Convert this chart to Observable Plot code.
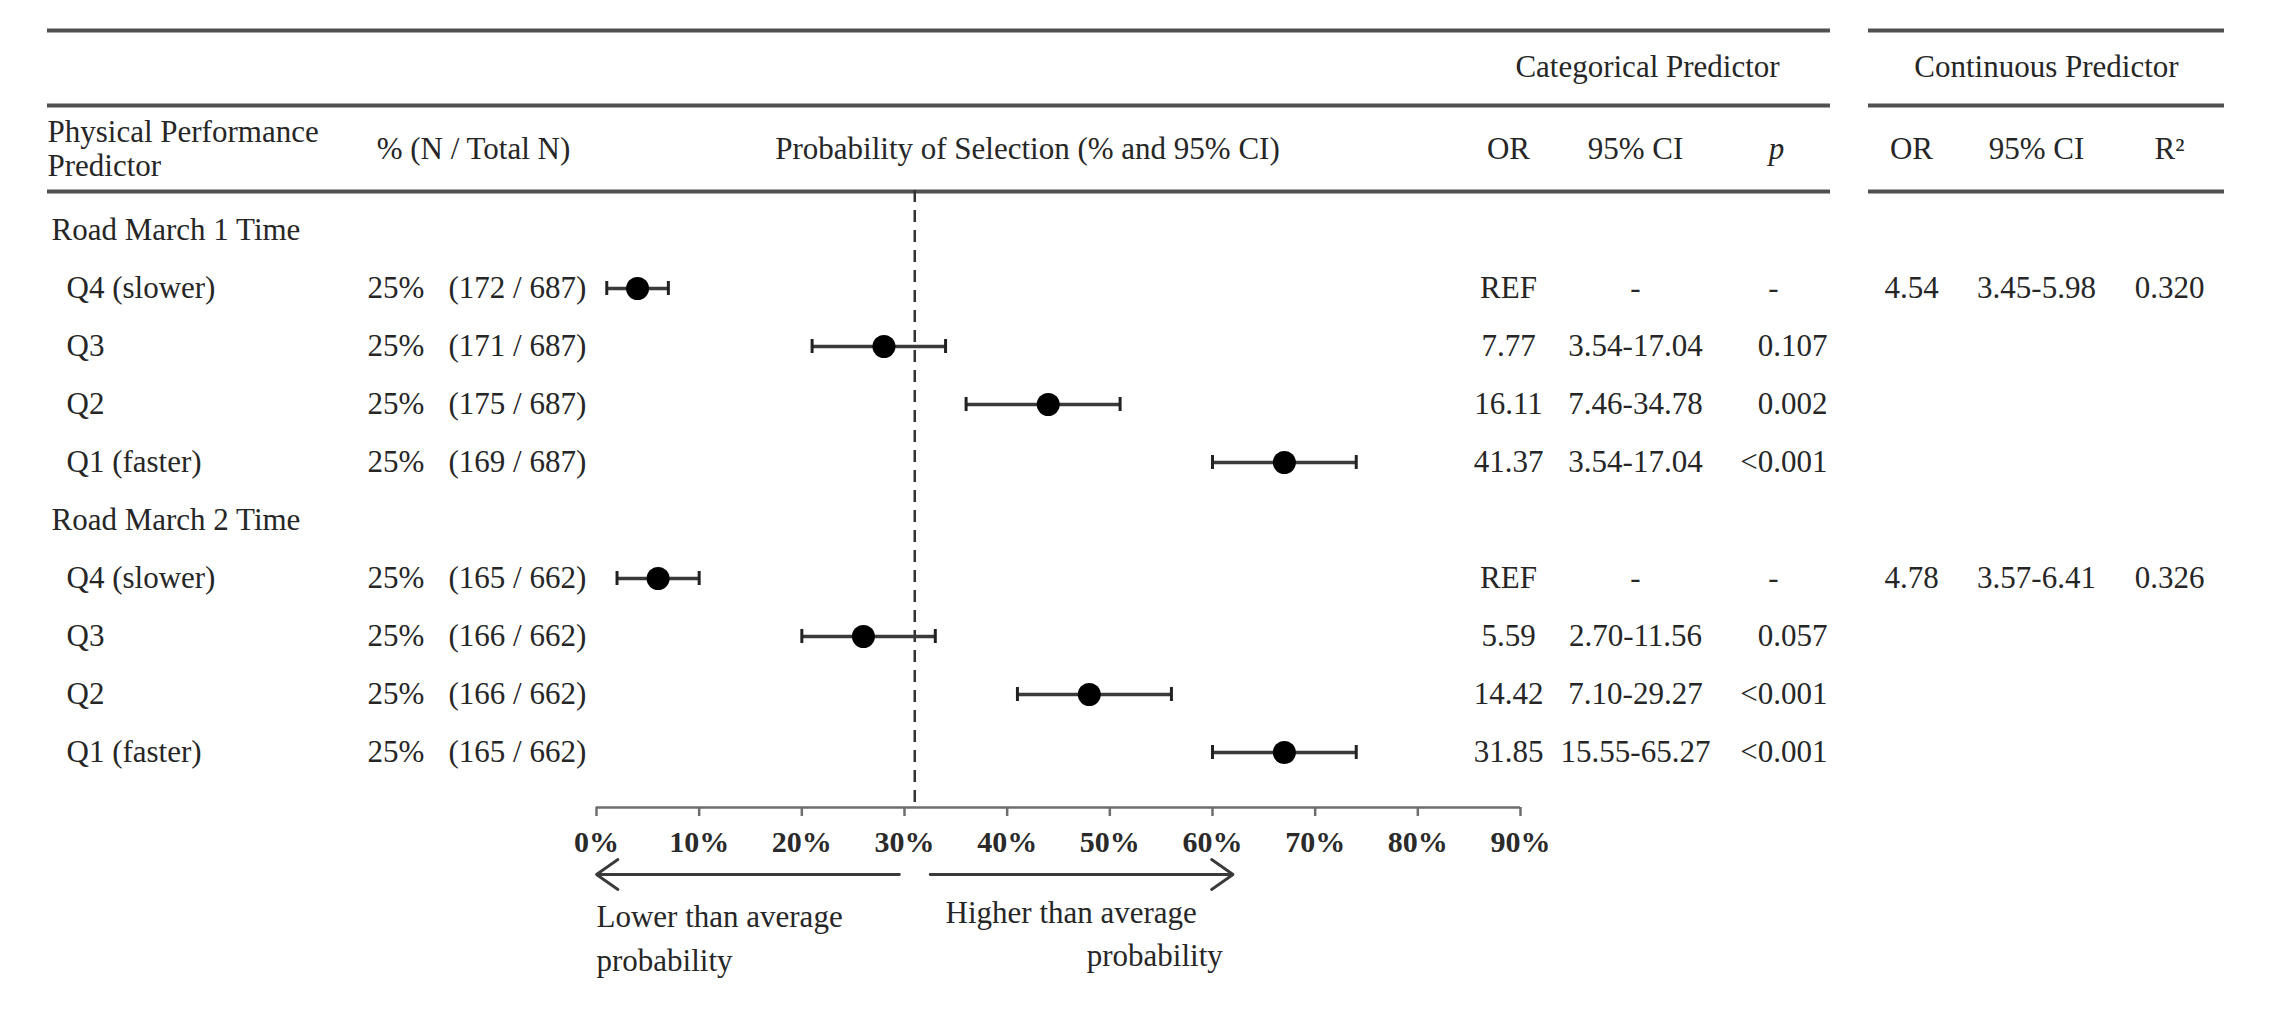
<!DOCTYPE html>
<html>
<head>
<meta charset="utf-8">
<script src="https://cdn.jsdelivr.net/npm/d3@7"></script>
<script src="https://cdn.jsdelivr.net/npm/@observablehq/plot@0.6"></script>
<style>
  html, body { margin: 0; padding: 0; background: #fff; }
  #chart svg { display: block; }
</style>
</head>
<body>
<div id="chart"></div>
<script>
// ---------------- data ----------------
const groups = ["Road March 1 Time", "Road March 2 Time"];
const quartiles = ["Q4 (slower)", "Q3", "Q2", "Q1 (faster)"];
const sharePct = [25, 25, 25, 25, 25, 25, 25, 25];
const countN = [172, 171, 175, 169, 165, 166, 166, 165];
const totalN = [687, 662];
const probEst = [4, 28, 44, 67, 6, 26, 48, 67];
const probLo = [1, 21, 36, 60, 2, 20, 41, 60];
const probHi = [7, 34, 51, 74, 10, 33, 56, 74];
const catOR = ["REF", "7.77", "16.11", "41.37", "REF", "5.59", "14.42", "31.85"];
const catCI = ["-", "3.54-17.04", "7.46-34.78", "3.54-17.04", "-", "2.70-11.56", "7.10-29.27", "15.55-65.27"];
const catP = ["-", "0.107", "0.002", "<0.001", "-", "0.057", "<0.001", "<0.001"];
const contOR = ["4.54", "4.78"];
const contCI = ["3.45-5.98", "3.57-6.41"];
const contR2 = ["0.320", "0.326"];
const averageProb = 31;
const xTicks = [0, 10, 20, 30, 40, 50, 60, 70, 80, 90];
const blockTitles = ["Categorical Predictor", "Continuous Predictor"];
const columnTitles = ["Physical Performance\nPredictor", "% (N / Total N)", "Probability of Selection (% and 95% CI)", "OR", "95% CI", "p", "OR", "95% CI", "R\u00B2"];
const arrowFrom = [29.5, 32.5];
const arrowTo = [0, 62];
const directionText = ["Lower than average\nprobability", "Higher than average", "probability"];
const directionAt = [0, 34, 61];

// ---------------- layout (pixels) ----------------
const W = 2273, H = 1011;
const ML = 47, MR = 49, MT = 190, MB = 204;
const X_RANGE = [596, 1520];
const Y_RANGE = [229, 752];
const FONT = "'Liberation Serif', 'Times New Roman', serif";
const INK = "#262626";
const COL = {group: 51, label: 66, pct: 367, n: 448, or: 1508, ci: 1635, pRight: 1827, pDash: 1773,
             cor: 1911, cci: 2036, r2: 2169};
const titleX = [1647, 2046];
const titleY = 67;
const colTitleX = [47, 473, 1027, 1508, 1635, 1776, 1911, 2036, 2169];
const colTitleY = 148;
const ruleYs = [29, 104, 190];
const leftBlockEnd = 1830, rightBlockStart = 1868;
const axisY = 807, arrowY = 874, dirY1 = 913, dirY2 = 956;

// ---------------- build rows ----------------
const rows = [];
groups.forEach((g, gi) => quartiles.forEach((q, qi) => {
  const i = gi * quartiles.length + qi;
  rows.push({
    key: g + " | " + q, group: gi, first: qi === 0, label: q,
    pct: sharePct[i], n: countN[i], total: totalN[gi],
    est: probEst[i], lo: probLo[i], hi: probHi[i],
    or: catOR[i], ci: catCI[i], p: catP[i],
    cor: qi === 0 ? contOR[gi] : "", cci: qi === 0 ? contCI[gi] : "", r2: qi === 0 ? contR2[gi] : ""
  });
}));
const yDomain = groups.flatMap(g => [g, ...quartiles.map(q => g + " | " + q)]);
const firstKey = yDomain[0];
const lastKey = yDomain[yDomain.length - 1];

const colText = (field, px, anchor, extra = {}) =>
  Plot.text(rows, {y: "key", text: field, frameAnchor: "left", dx: px - ML,
                   textAnchor: anchor, lineAnchor: "middle", fill: INK, ...extra});

const headerRules = ruleYs.flatMap(r => [
  Plot.ruleY([firstKey], {dy: r - Y_RANGE[0], insetRight: (W - MR) - leftBlockEnd, stroke: "#505050", strokeWidth: 4}),
  Plot.ruleY([firstKey], {dy: r - Y_RANGE[0], insetLeft: rightBlockStart - ML, stroke: "#505050", strokeWidth: 4})
]);

const chart = Plot.plot({
  width: W, height: H,
  marginLeft: ML, marginRight: MR, marginTop: MT, marginBottom: MB,
  style: {fontFamily: FONT, fontSize: "31px", color: INK, background: "white"},
  x: {domain: [0, 90], range: X_RANGE, label: null},
  y: {type: "point", domain: yDomain, range: Y_RANGE, padding: 0, axis: null},
  marks: [
    ...headerRules,
    // block titles
    ...blockTitles.map((t, i) => Plot.text([t], {text: d => d, frameAnchor: "top-left",
      dx: titleX[i] - ML, dy: titleY - MT, textAnchor: "middle", lineAnchor: "middle", fill: INK})),
    // column titles
    ...columnTitles.map((t, i) => Plot.text([t], {text: d => d, frameAnchor: "top-left",
      dx: colTitleX[i] - ML, dy: colTitleY - MT, textAnchor: i === 0 ? "start" : "middle",
      lineAnchor: "middle", lineHeight: 1.1, fill: INK, fontStyle: t === "p" ? "italic" : "normal"})),
    // group headings
    Plot.text(groups, {y: d => d, text: d => d, frameAnchor: "left", dx: COL.group - ML,
      textAnchor: "start", lineAnchor: "middle", fill: INK}),
    colText("label", COL.label, "start"),
    colText(d => d.pct + "%", COL.pct, "start"),
    colText(d => `(${d.n} / ${d.total})`, COL.n, "start"),
    colText("or", COL.or, "middle"),
    colText("ci", COL.ci, "middle"),
    colText("p", COL.pRight, "end", {filter: d => d.p !== "-"}),
    colText("p", COL.pDash, "middle", {filter: d => d.p === "-"}),
    colText("cor", COL.cor, "middle", {filter: d => d.first}),
    colText("cci", COL.cci, "middle", {filter: d => d.first}),
    colText("r2", COL.r2, "middle", {filter: d => d.first}),
    // reference line (average probability)
    Plot.ruleX([averageProb], {stroke: "#333", strokeWidth: 2.5, strokeDasharray: "12,8"}),
    // confidence intervals
    Plot.ruleY(rows, {y: "key", x1: "lo", x2: "hi", stroke: "#3a3a3a", strokeWidth: 3.5}),
    Plot.ruleX(rows, {x: "lo", y1: "key", y2: "key", insetTop: -7, insetBottom: -7, stroke: "#222", strokeWidth: 3}),
    Plot.ruleX(rows, {x: "hi", y1: "key", y2: "key", insetTop: -7, insetBottom: -7, stroke: "#222", strokeWidth: 3}),
    Plot.dot(rows, {y: "key", x: "est", r: 11.5, fill: "#000", stroke: "none"}),
    // x axis
    Plot.ruleY([lastKey], {x1: xTicks[0], x2: xTicks[xTicks.length - 1], dy: axisY - Y_RANGE[1],
      stroke: "#6e6e6e", strokeWidth: 2.5}),
    Plot.axisX({ticks: xTicks, anchor: "bottom", tickFormat: d => d + "%", tickSize: 9,
      tickPadding: 14, fontSize: 30, fontWeight: "bold", stroke: "#6e6e6e", strokeWidth: 2.5, fill: "#2a2a2a"}),
    // direction arrows
    Plot.arrow(arrowFrom.map((a, i) => ({x1: a, x2: arrowTo[i]})), {x1: "x1", x2: "x2",
      y1: () => lastKey, y2: () => lastKey, dy: arrowY - Y_RANGE[1],
      stroke: "#3a3a3a", strokeWidth: 2.8, headLength: 14, headAngle: 70}),
    Plot.text([0], {x: directionAt[0], text: () => directionText[0], frameAnchor: "bottom",
      dy: (dirY1 + dirY2) / 2 - axisY, textAnchor: "start", lineAnchor: "middle", lineHeight: 1.4, fill: INK}),
    Plot.text([0], {x: directionAt[1], text: () => directionText[1], frameAnchor: "bottom",
      dy: dirY1 - axisY, textAnchor: "start", lineAnchor: "middle", fill: INK}),
    Plot.text([0], {x: directionAt[2], text: () => directionText[2], frameAnchor: "bottom",
      dy: dirY2 - axisY, textAnchor: "end", lineAnchor: "middle", fill: INK})
  ]
});
document.getElementById("chart").append(chart);
</script>
</body>
</html>
